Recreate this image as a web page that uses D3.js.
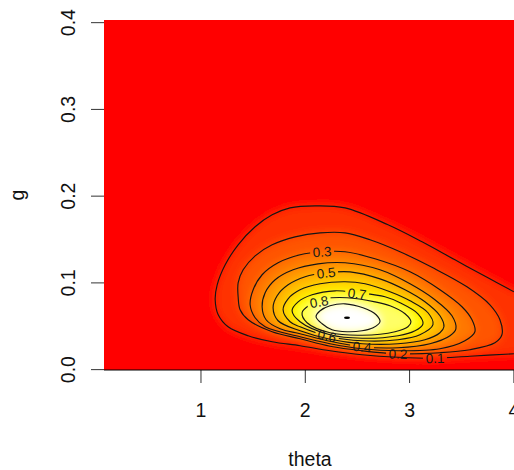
<!DOCTYPE html>
<html>
<head>
<meta charset="utf-8">
<script src="https://d3js.org/d3.v7.min.js"></script>
<style>
body { margin: 0; background: #fff; }
svg { display: block; font-family: "Liberation Sans", Arial, Helvetica, sans-serif; }
</style>
</head>
<body>
<script>
// contour levels of the (scaled) likelihood surface, lines traced as [theta, g]
var levels = [0.1, 0.2, 0.3, 0.4, 0.5, 0.6, 0.7, 0.8, 0.9];

// 0.1 leaves the plot on the right: starts at the bottom exit, ends at the top exit
var c01 = [[4.005,0.0177],[3.583,0.0149],[3.248,0.0126],[2.894,0.0137],[2.549,0.0166],[2.242,0.0212],
  [1.955,0.0270],[1.687,0.0316],[1.457,0.0385],[1.265,0.0488],[1.170,0.0627],[1.141,0.0800],[1.160,0.0972],
  [1.237,0.1203],[1.361,0.1433],[1.524,0.1641],[1.687,0.1779],[1.859,0.1859],[2.099,0.1882],[2.386,0.1859],
  [2.798,0.1664],[3.124,0.1468],[3.440,0.1260],[3.756,0.1053],[4.005,0.0892]];
var c02 = [[1.361,0.0834],[1.380,0.0684],[1.457,0.0569],[1.687,0.0431],[1.955,0.0350],[2.242,0.0264],
  [2.549,0.0212],[2.894,0.0177],[3.296,0.0189],[3.583,0.0224],[3.823,0.0304],[3.890,0.0396],[3.871,0.0569],
  [3.775,0.0742],[3.555,0.0949],[3.229,0.1168],[2.913,0.1353],[2.625,0.1491],[2.386,0.1571],[2.147,0.1571],
  [1.907,0.1525],[1.687,0.1433],[1.524,0.1306],[1.409,0.1145],[1.361,0.0995]];
var c03 = [[1.476,0.0742],[1.524,0.0592],[1.620,0.0488],[1.955,0.0373],[2.242,0.0293],[2.549,0.0235],
  [2.894,0.0212],[3.296,0.0235],[3.535,0.0327],[3.631,0.0431],[3.603,0.0569],[3.507,0.0719],[3.296,0.0915],
  [3.009,0.1122],[2.673,0.1272],[2.386,0.1353],[2.166,0.1353],[1.955,0.1318],[1.744,0.1226],[1.591,0.1088],
  [1.505,0.0915]];
var c04 = [[1.591,0.0719],[1.629,0.0569],[1.763,0.0465],[1.955,0.0408],[2.242,0.0321],[2.549,0.0258],
  [2.894,0.0247],[3.200,0.0293],[3.392,0.0385],[3.449,0.0465],[3.411,0.0615],[3.248,0.0800],[3.009,0.0984],
  [2.721,0.1145],[2.386,0.1226],[2.127,0.1214],[1.888,0.1145],[1.716,0.1030],[1.620,0.0880]];
var c05 = [[1.696,0.0707],[1.744,0.0558],[1.955,0.0442],[2.242,0.0344],[2.549,0.0293],[2.894,0.0293],
  [3.152,0.0339],[3.296,0.0419],[3.334,0.0488],[3.296,0.0615],[3.152,0.0776],[2.961,0.0915],[2.721,0.1041],
  [2.434,0.1122],[2.204,0.1111],[2.003,0.1065],[1.840,0.0972],[1.735,0.0846]];
var c06 = [[1.792,0.0684],[1.859,0.0546],[1.955,0.0488],[2.242,0.0373],[2.549,0.0327],[2.894,0.0339],
  [3.104,0.0396],[3.229,0.0512],[3.181,0.0650],[3.009,0.0788],[2.817,0.0892],[2.578,0.0984],[2.386,0.1007],
  [2.147,0.0984],[1.955,0.0915],[1.840,0.0811]];
var c07 = [[1.878,0.0673],[1.955,0.0546],[2.242,0.0396],[2.549,0.0356],[2.894,0.0385],[3.057,0.0442],
  [3.133,0.0523],[3.085,0.0638],[2.913,0.0765],[2.769,0.0834],[2.501,0.0880],[2.290,0.0903],[2.070,0.0857],
  [1.936,0.0776]];
var c08 = [[1.974,0.0650],[2.022,0.0535],[2.242,0.0419],[2.549,0.0391],[2.865,0.0431],[2.989,0.0488],
  [3.018,0.0546],[2.961,0.0638],[2.817,0.0730],[2.673,0.0776],[2.405,0.0823],[2.194,0.0811],[2.051,0.0742]];
var c09 = [[2.108,0.0604],[2.166,0.0523],[2.261,0.0454],[2.405,0.0431],[2.549,0.0442],[2.655,0.0477],
  [2.721,0.0546],[2.684,0.0627],[2.558,0.0707],[2.386,0.0753],[2.242,0.0730],[2.147,0.0673]];
var contourLines = [c01, c02, c03, c04, c05, c06, c07, c08, c09];
var openLevels = [0.1];

// where R put the contour labels
var labelLevels = [0.1, 0.2, 0.3, 0.4, 0.5, 0.6, 0.7, 0.8];
var labelPos = [[3.248,0.0126],[2.894,0.0177],[2.166,0.1353],[2.549,0.0258],
  [2.204,0.1111],[2.214,0.0385],[2.501,0.0869],[2.137,0.0776]];

var peak = [2.405, 0.0592];

var xTicks = [1, 2, 3, 4];
var yTicks = [0, 0.1, 0.2, 0.3, 0.4];

var margin = {top: 20, right: -2, bottom: 100, left: 104},
    width = 514 - margin.left - margin.right,
    height = 470 - margin.top - margin.bottom;

var x = d3.scaleLinear().domain([0.075, 4.025]).range([0, width]);
var y = d3.scaleLinear().domain([-0.001, 0.4025]).range([height, 0]);

// heat.colors(): red -> yellow over the first 3/4, then yellow -> white
function heat(z) {
  z = Math.min(z, 1);
  if (z <= 0.75) return d3.hsl(z / 0.75 * 60, 1, 0.5).formatHex();
  var s = 1 - (z - 0.75) / 0.25;
  return d3.rgb(255, 255, Math.round(255 * (1 - s))).formatHex();
}

var svg = d3.select("body").append("svg")
    .attr("width", width + margin.left + margin.right)
    .attr("height", height + margin.top + margin.bottom)
  .append("g")
    .attr("transform", "translate(" + margin.left + "," + margin.top + ")");

var defs = svg.append("defs");
defs.append("clipPath").attr("id", "plotClip")
  .append("rect").attr("width", width).attr("height", height);
defs.append("filter").attr("id", "soft")
    .attr("filterUnits", "userSpaceOnUse")
    .attr("x", -60).attr("y", -60).attr("width", width + 120).attr("height", height + 120)
  .append("feGaussianBlur").attr("stdDeviation", 4.5);

var closedLine = d3.line().x(function(d) { return x(d[0]); }).y(function(d) { return y(d[1]); })
    .curve(d3.curveCatmullRomClosed);
var openLine = d3.line().x(function(d) { return x(d[0]); }).y(function(d) { return y(d[1]); })
    .curve(d3.curveCatmullRom);

function isOpen(lv) { return openLevels.indexOf(lv) >= 0; }

function linePath(i) {
  return isOpen(levels[i]) ? openLine(contourLines[i]) : closedLine(contourLines[i]);
}

// open lines are closed off beyond the right edge for filling
function fillPath(i) {
  var pts = contourLines[i];
  if (!isOpen(levels[i])) return closedLine(pts);
  var xe = x(x.domain()[1]) + 30;
  return openLine(pts) + "L" + xe + "," + y(pts[pts.length - 1][1]) +
    "L" + xe + "," + y(pts[0][1]) + "Z";
}

// colour field: nested bands, softened so it reads as a gradient
var field = svg.append("g").attr("clip-path", "url(#plotClip)")
  .append("g").attr("filter", "url(#soft)");
field.append("rect")
    .attr("x", -50).attr("y", -50).attr("width", width + 100).attr("height", height + 100)
    .attr("fill", heat(0));
field.selectAll("path.band")
    .data(levels)
  .enter().append("path")
    .attr("class", "band")
    .attr("d", function(d, i) { return fillPath(i); })
    .attr("fill", function(d) { return heat(d >= 0.9 ? 1 : d + 0.05); });

// label gaps in each labelled line
function labelAngle(pts, p) {
  var px = x(p[0]), py = y(p[1]), best = 0, bd = Infinity;
  pts.forEach(function(q, k) {
    var dd = Math.pow(x(q[0]) - px, 2) + Math.pow(y(q[1]) - py, 2);
    if (dd < bd) { bd = dd; best = k; }
  });
  var a = pts[Math.max(best - 1, 0)], b = pts[Math.min(best + 1, pts.length - 1)];
  var ang = Math.atan2(y(b[1]) - y(a[1]), x(b[0]) - x(a[0])) * 180 / Math.PI;
  if (ang > 90) ang -= 180;
  if (ang < -90) ang += 180;
  return ang;
}

var labels = labelLevels.map(function(lv, i) {
  var li = levels.indexOf(lv);
  return {level: lv, idx: li, px: x(labelPos[i][0]), py: y(labelPos[i][1]),
          angle: labelAngle(contourLines[li], labelPos[i])};
});

labels.forEach(function(l) {
  var m = defs.append("mask").attr("id", "gap" + l.idx)
      .attr("maskUnits", "userSpaceOnUse")
      .attr("x", -10).attr("y", -10).attr("width", width + 20).attr("height", height + 20);
  m.append("rect").attr("x", -10).attr("y", -10).attr("width", width + 20).attr("height", height + 20)
      .attr("fill", "white");
  m.append("rect").attr("x", -12).attr("y", -5).attr("width", 24).attr("height", 10)
      .attr("fill", "black")
      .attr("transform", "translate(" + l.px + "," + l.py + ") rotate(" + l.angle + ")");
});

var lines = svg.append("g").attr("clip-path", "url(#plotClip)");
lines.selectAll("path.contour")
    .data(levels)
  .enter().append("path")
    .attr("class", "contour")
    .attr("d", function(d, i) { return linePath(i); })
    .attr("fill", "none")
    .attr("stroke", "#151515")
    .attr("stroke-width", 1.15)
    .attr("mask", function(d, i) { return labelLevels.indexOf(d) >= 0 ? "url(#gap" + i + ")" : null; });

lines.selectAll("text.clabel")
    .data(labels)
  .enter().append("text")
    .attr("class", "clabel")
    .attr("transform", function(d) { return "translate(" + d.px + "," + d.py + ") rotate(" + d.angle + ")"; })
    .attr("dy", "0.36em")
    .attr("text-anchor", "middle")
    .attr("font-size", 13.5)
    .attr("fill", "#1a1a1a")
    .text(function(d) { return d3.format(".1f")(d.level); });

// the maximum
lines.append("ellipse")
    .attr("cx", x(peak[0])).attr("cy", y(peak[1]))
    .attr("rx", 3).attr("ry", 1.2)
    .attr("fill", "#000");

// axes
var xAxis = d3.axisBottom(x).tickValues(xTicks).tickSize(13).tickPadding(20).tickFormat(d3.format("d"));
var gx = svg.append("g")
    .attr("class", "x axis")
    .attr("transform", "translate(0," + height + ")")
    .call(xAxis);
gx.select(".domain").remove();

var yAxis = d3.axisLeft(y).tickValues(yTicks).tickSize(13).tickFormat(d3.format(".1f"));
var gy = svg.append("g")
    .attr("class", "y axis")
    .call(yAxis);
gy.select(".domain").remove();
gy.selectAll(".tick text")
    .attr("x", null).attr("dy", null)
    .attr("text-anchor", "middle")
    .attr("transform", "translate(-29,0) rotate(-90)");

svg.selectAll(".axis")
    .attr("font-size", 19.5)
    .attr("font-family", null)
    .attr("color", "#333");
svg.selectAll(".axis text").attr("fill", "#111");

svg.append("line")
    .attr("x1", 0).attr("x2", width)
    .attr("y1", height).attr("y2", height)
    .attr("stroke", "#000");

svg.append("text")
    .attr("x", width / 2)
    .attr("y", height + 96)
    .attr("text-anchor", "middle")
    .attr("font-size", 19.5)
    .attr("fill", "#111")
    .text("theta");

svg.append("text")
    .attr("transform", "translate(-80.5," + (height / 2) + ") rotate(-90)")
    .attr("text-anchor", "middle")
    .attr("font-size", 19.5)
    .attr("fill", "#111")
    .text("g");
</script>
</body>
</html>
